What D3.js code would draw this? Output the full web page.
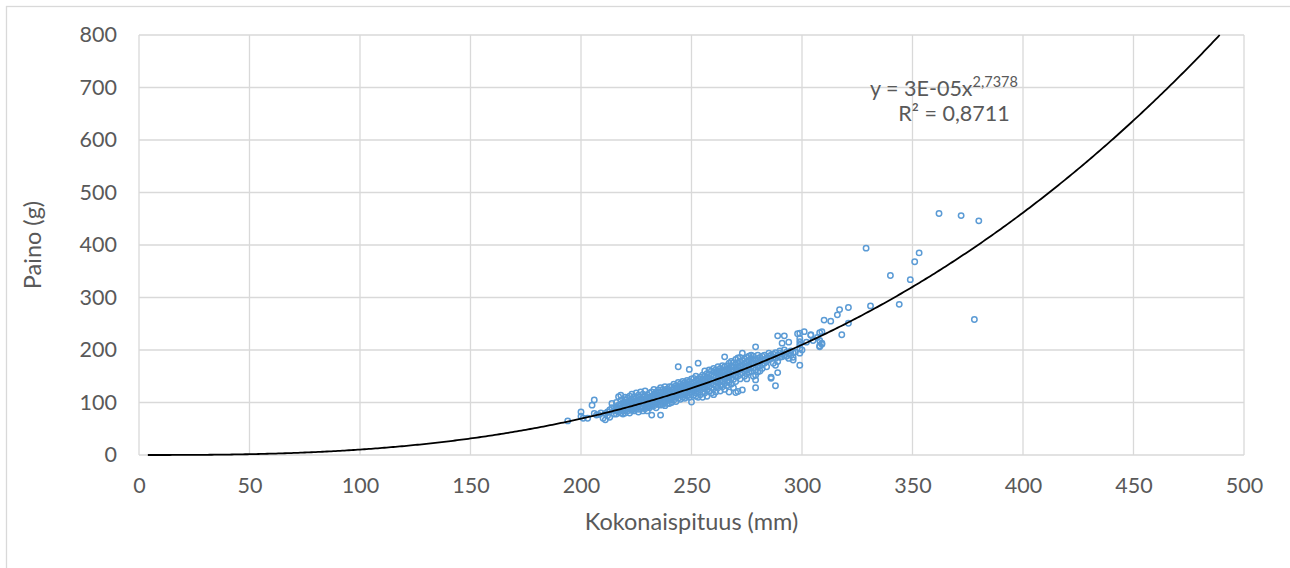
<!DOCTYPE html>
<html>
<head>
<meta charset="utf-8">
<script src="https://cdn.jsdelivr.net/npm/d3@7"></script>
<style>
  body { margin: 0; background: #fff; }
  text { font-family: Lato, "Open Sans", sans-serif; fill: #595959; }
</style>
</head>
<body>
<div id="chart"></div>
<script>

// tick values
var xTicks = d3.range(0, 501, 50);
var yTicks = d3.range(0, 801, 100);

// power trendline y = a * x^b (a shown rounded as 3E-05)
var trendA = 3.47e-5;
var trendB = 2.7378;
var trendText = "y = 3E-05x";
var trendSup = "2,7378";
var r2Text = "R² = 0,8711";

// measured fish: first value is length (mm), the rest are weights (g)
var fishA = [
	[194, 65], [200, 82, 74], [201, 70], [203, 70], [205, 95], [206, 105, 79],
	[207, 76], [208, 77], [209, 80], [210, 70], [211, 79, 67], [212, 75, 82],
	[213, 72, 86], [214, 98, 90], [215, 85, 78], [216, 88]
];
var fishB = [
	[216, 84, 92, 100, 78], [217, 111, 90, 82, 95, 86], [218, 114, 80, 97, 88, 104],
	[219, 92, 84, 100, 78, 95], [220, 86, 105, 94, 110, 80, 99], [221, 90, 101, 84, 96, 108],
	[222, 97, 88, 112, 80, 104, 93], [223, 100, 85, 94, 116, 90], [224, 92, 106, 99, 84, 111, 88],
	[225, 103, 96, 88, 118, 92, 108], [226, 95, 110, 87, 101, 82, 114], [227, 104, 92, 120, 98, 88, 107],
	[228, 97, 110, 90, 103, 116, 84], [229, 100, 94, 112, 106, 88, 122], [230, 105, 98, 115, 91, 109, 84, 102],
	[231, 110, 96, 104, 118, 90, 100], [232, 76, 103, 112, 97, 120, 107, 93], [233, 108, 100, 116, 94, 125, 104],
	[234, 98, 112, 106, 120, 90, 101, 115], [235, 105, 118, 96, 110, 124, 102], [236, 76, 112, 100, 120, 107, 95, 128],
	[237, 110, 104, 118, 96, 125, 113], [238, 100, 115, 108, 122, 94, 130, 112], [239, 118, 106, 112, 98, 126, 120],
	[240, 110, 104, 122, 116, 98, 130, 108]
];
var fishC = [
	[241, 115, 108, 124, 100, 130, 118], [242, 120, 112, 105, 128, 116, 135], [243, 118, 110, 126, 102, 132, 122],
	[244, 168, 115, 124, 108, 130, 120, 138], [245, 122, 114, 130, 106, 136, 126], [246, 118, 128, 110, 134, 124, 140, 115],
	[247, 125, 116, 132, 108, 138, 121], [248, 130, 120, 112, 136, 126, 142, 118], [249, 163, 124, 132, 115, 140, 128, 110],
	[250, 101, 128, 120, 136, 145, 124, 132], [251, 130, 122, 138, 114, 146, 126], [252, 134, 125, 118, 142, 130, 150, 112],
	[253, 175, 128, 136, 120, 145, 132, 110], [254, 132, 140, 124, 148, 115, 136], [255, 138, 128, 145, 120, 152, 134, 110],
	[256, 135, 142, 126, 150, 118, 160, 130], [257, 140, 132, 148, 124, 155, 112], [258, 138, 146, 130, 154, 122, 162, 142],
	[259, 144, 136, 152, 128, 160, 118], [260, 142, 150, 134, 158, 126, 165, 115], [261, 148, 140, 156, 132, 162, 120],
	[262, 146, 154, 138, 160, 128, 168]
];
var fishD = [
	[263, 150, 142, 158, 134, 165, 122], [264, 148, 156, 140, 162, 130, 170], [265, 187, 152, 160, 144, 168, 136, 125],
	[266, 155, 148, 163, 140, 170, 132], [267, 158, 150, 166, 142, 175, 120, 138], [268, 162, 154, 170, 146, 178, 135],
	[269, 160, 168, 152, 176, 144, 128], [270, 119, 165, 158, 172, 150, 182, 140], [271, 121, 168, 160, 175, 150, 185],
	[272, 170, 162, 178, 154, 186, 145], [273, 124, 194, 172, 164, 180, 156], [274, 175, 168, 183, 160, 150],
	[275, 178, 170, 186, 162, 155, 145], [276, 180, 172, 165, 188, 158], [277, 176, 184, 168, 160, 190],
	[278, 182, 175, 166, 188, 150], [279, 206, 128, 143, 152, 162, 180, 172], [280, 184, 176, 168, 190, 158],
	[281, 186, 178, 170, 160], [282, 188, 180, 172, 165]
];
var fishE = [
	[283, 182, 175, 190], [284, 168, 185, 178], [285, 194, 182, 188], [286, 146, 148, 184, 190],
	[287, 175, 186, 192], [288, 132, 171, 184, 195], [289, 157, 178, 227, 190], [290, 194, 186, 198],
	[291, 187, 213, 192], [292, 227, 190, 200], [293, 188, 196], [294, 184, 215, 192],
	[295, 190, 198], [296, 181, 195, 186], [297, 196]
];
var fishF = [
	[298, 231], [299, 232, 222, 216, 210, 203, 194, 171], [300, 200], [301, 235], [302, 215],
	[304, 228, 229], [305, 218], [307, 224], [308, 218, 208, 233, 206], [309, 211, 213, 235],
	[310, 257], [313, 255], [316, 267], [317, 277], [318, 229], [321, 281, 251],
	[329, 394], [331, 284], [340, 342], [344, 287], [349, 334], [351, 368], [353, 385],
	[362, 460], [372, 456], [378, 258], [380, 446]
];

var W = 1290, H = 568;
var m = {left: 139, right: 1244, top: 35, bottom: 455};

var points = [];
[fishA, fishB, fishC, fishD, fishE, fishF].forEach(function(group) {
	group.forEach(function(row) {
		for (var i = 1; i < row.length; i++) points.push({len: row[0], w: row[i]});
	});
});

var x = d3.scaleLinear().domain([0, 500]).range([m.left, m.right]);
var y = d3.scaleLinear().domain([0, 800]).range([m.bottom, m.top]);

var svg = d3.select('#chart')
	.append('svg')
		.attr('width', W)
		.attr('height', H);

// chart frame
svg.append('rect')
	.attr('x', 6.5).attr('y', 6.5)
	.attr('width', W).attr('height', H)
	.style('fill', 'none')
	.style('stroke', '#D9D9D9')
	.style('stroke-width', 1.3);

// gridlines
svg.append('g')
	.selectAll('line.v')
	.data(xTicks).enter()
	.append('line')
		.attr('x1', function(d) { return x(d); })
		.attr('x2', function(d) { return x(d); })
		.attr('y1', m.top).attr('y2', m.bottom)
		.style('stroke', '#D9D9D9').style('stroke-width', 1.3);
svg.append('g')
	.selectAll('line.h')
	.data(yTicks).enter()
	.append('line')
		.attr('y1', function(d) { return y(d); })
		.attr('y2', function(d) { return y(d); })
		.attr('x1', m.left).attr('x2', m.right)
		.style('stroke', '#D9D9D9').style('stroke-width', 1.3);

// axes (labels only, lines come from the grid)
var xAxis = svg.append('g')
	.attr('transform', 'translate(0,' + m.bottom + ')')
	.call(d3.axisBottom(x).tickValues(xTicks).tickSize(0).tickPadding(23));
var yAxis = svg.append('g')
	.attr('transform', 'translate(' + m.left + ',0)')
	.call(d3.axisLeft(y).tickValues(yTicks).tickSize(0).tickPadding(22));
[xAxis, yAxis].forEach(function(a) {
	a.select('.domain').remove();
	a.selectAll('text')
		.style('font-size', '21.5px')
		.style('font-family', 'Lato, "Open Sans", sans-serif')
		.attr('fill', '#595959');
});

// scatter points
svg.append('g')
	.selectAll('circle')
	.data(points).enter()
	.append('circle')
		.attr('cx', function(d) { return x(d.len); })
		.attr('cy', function(d) { return y(d.w); })
		.attr('r', 2.7)
		.style('fill', 'none')
		.style('stroke', '#5B9BD5')
		.style('stroke-width', 1.5);

// trendline
var xEnd = Math.pow(800 / trendA, 1 / trendB);
var trendPts = d3.range(4, xEnd, 1).concat([xEnd]);
svg.append('path')
	.datum(trendPts)
	.attr('d', d3.line()
		.x(function(d) { return x(d); })
		.y(function(d) { return y(trendA * Math.pow(d, trendB)); }))
	.style('fill', 'none')
	.style('stroke', '#000')
	.style('stroke-width', 1.8);

// trendline label
var eq = svg.append('text')
	.attr('x', 870).attr('y', 96)
	.style('font-size', '21.5px');
eq.append('tspan').text(trendText);
eq.append('tspan').attr('dy', -9).style('font-size', '14.5px').text(trendSup);
svg.append('text')
	.attr('x', 954).attr('y', 121)
	.attr('text-anchor', 'middle')
	.style('font-size', '21.5px')
	.text(r2Text);

// axis titles
svg.append('text')
	.attr('x', (m.left + m.right) / 2).attr('y', 530)
	.attr('text-anchor', 'middle')
	.style('font-size', '23.5px')
	.text('Kokonaispituus (mm)');
svg.append('text')
	.attr('transform', 'translate(41,' + (m.top + m.bottom) / 2 + ') rotate(-90)')
	.attr('text-anchor', 'middle')
	.style('font-size', '23.5px')
	.text('Paino (g)');

</script>
</body>
</html>
